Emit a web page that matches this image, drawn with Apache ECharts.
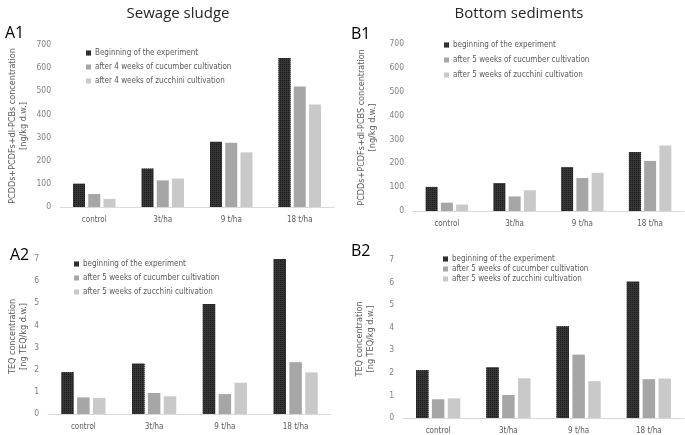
<!DOCTYPE html>
<html>
<head>
<meta charset="utf-8">
<script src="https://cdn.jsdelivr.net/npm/echarts@6/dist/echarts.min.js"></script>
<style>
  html, body { margin: 0; padding: 0; background: #fff; }
  #chart { width: 685px; height: 435px; }
</style>
</head>
<body>
<div id="chart"></div>
<script>
// categories on every x axis
var categories = ['control', '3t/ha', '9 t/ha', '18 t/ha']

// A1 - sewage sludge, PCDDs+PCDFs+dl-PCBs
var a1Begin = [101, 166, 282, 644]
var a1Cucumber = [56, 115, 278, 521]
var a1Zucchini = [35, 123, 236, 443]

// B1 - bottom sediments, PCDDs+PCDFs+dl-PCBs
var b1Begin = [101, 117, 184, 247]
var b1Cucumber = [35, 61, 138, 210]
var b1Zucchini = [27, 87, 160, 275]

// A2 - sewage sludge, TEQ
var a2Begin = [1.89, 2.28, 4.97, 7.0]
var a2Cucumber = [0.75, 0.95, 0.90, 2.34]
var a2Zucchini = [0.72, 0.80, 1.41, 1.88]

// B2 - bottom sediments, TEQ
var b2Begin = [2.12, 2.25, 4.07, 6.05]
var b2Cucumber = [0.83, 1.02, 2.81, 1.72]
var b2Zucchini = [0.87, 1.76, 1.63, 1.75]

var namesA1 = ['Beginning of the experiment', 'after 4 weeks of cucumber cultivation', 'after 4 weeks of zucchini cultivation']
var namesOther = ['beginning of the experiment', 'after 5 weeks of cucumber cultivation', 'after 5 weeks of zucchini cultivation']

var colors = ['#363636', '#a6a6a6', '#c9c9c9']
var font = "'Liberation Sans Narrow', 'DejaVu Sans Condensed', sans-serif"

var chart = echarts.init(document.getElementById('chart'))

function xAx(gridIndex) {
  return {
    type: 'category',
    gridIndex: gridIndex,
    data: categories,
    axisTick: { show: false },
    axisLine: { lineStyle: { color: '#d9d9d9' } },
    axisLabel: { color: '#595959', fontSize: 8, fontFamily: font, margin: 9 }
  }
}

function yAx(gridIndex, max, interval, name, gap) {
  return {
    type: 'value',
    gridIndex: gridIndex,
    min: 0,
    max: max,
    interval: interval,
    name: name,
    nameLocation: 'middle',
    nameRotate: 90,
    nameGap: gap,
    nameTextStyle: { color: '#595959', fontSize: 9, fontFamily: font, lineHeight: 11 },
    splitLine: { show: false },
    axisLine: { show: false },
    axisTick: { show: false },
    axisLabel: { color: '#808080', fontSize: 8.5, fontFamily: font, margin: 9 }
  }
}

function bars(names, idx, values, width) {
  return values.map(function (v, i) {
    var style = { color: colors[i] }
    if (i === 0) {
      // checkered texture of the dark bars
      style.decal = { symbol: 'rect', symbolSize: 1, dashArrayX: [1, 1], dashArrayY: [1, 1], color: '#1c1c1c' }
    }
    return {
      name: names[i],
      type: 'bar',
      xAxisIndex: idx,
      yAxisIndex: idx,
      data: v,
      barWidth: width,
      barGap: '27%',
      itemStyle: style,
      animation: false
    }
  })
}

function legend(names, left, top, gap) {
  return {
    data: names,
    orient: 'vertical',
    left: left,
    top: top,
    itemWidth: 5,
    itemHeight: 5,
    itemGap: gap,
    icon: 'rect',
    selectedMode: false,
    textStyle: { color: '#595959', fontSize: 8, fontFamily: font, padding: [0, 0, 0, -1] }
  }
}

var series = []
  .concat(bars(namesA1, 0, [a1Begin, a1Cucumber, a1Zucchini], 12))
  .concat(bars(namesOther, 1, [b1Begin, b1Cucumber, b1Zucchini], 12))
  .concat(bars(namesOther, 2, [a2Begin, a2Cucumber, a2Zucchini], 12.5))
  .concat(bars(namesOther, 3, [b2Begin, b2Cucumber, b2Zucchini], 12.5))

chart.setOption({
  animation: false,
  textStyle: { fontFamily: font },
  title: [
    { text: 'Sewage sludge', left: 173, top: 1, textAlign: 'center', textStyle: { fontSize: 15, fontWeight: 'normal', color: '#262626', fontFamily: 'Open Sans' } },
    { text: 'Bottom sediments', left: 514, top: 1, textAlign: 'center', textStyle: { fontSize: 15, fontWeight: 'normal', color: '#262626', fontFamily: 'Open Sans' } },
    { text: 'A1', left: 0, top: 20, textStyle: { fontSize: 16, fontWeight: 'normal', color: '#000', fontFamily: 'Open Sans' } },
    { text: 'B1', left: 346, top: 21, textStyle: { fontSize: 16, fontWeight: 'normal', color: '#000', fontFamily: 'Open Sans' } },
    { text: 'A2', left: 5, top: 242, textStyle: { fontSize: 16, fontWeight: 'normal', color: '#000', fontFamily: 'Open Sans' } },
    { text: 'B2', left: 346, top: 238, textStyle: { fontSize: 16, fontWeight: 'normal', color: '#000', fontFamily: 'Open Sans' } }
  ],
  legend: [
    legend(namesA1, 81, 44, 6),
    legend(namesOther, 439, 36, 7),
    legend(namesOther, 69, 255, 6),
    legend(namesOther, 438, 250, 2)
  ],
  grid: [
    { left: 60, top: 45, width: 274, height: 162 },
    { left: 413, top: 44, width: 271, height: 167 },
    { left: 48, top: 259, width: 283, height: 155 },
    { left: 403, top: 260, width: 281, height: 158 }
  ],
  xAxis: [xAx(0), xAx(1), xAx(2), xAx(3)],
  yAxis: [
    yAx(0, 700, 100, 'PCDDs+PCDFs+dl-PCBs concentration\n[ng/kg d.w.]', 31),
    yAx(1, 700, 100, 'PCDDs+PCDFs+dl-PCBS concentration\n[ng/kg d.w.]', 35),
    yAx(2, 7, 1, 'TEQ concentration\n[ng TEQ/kg d.w.]', 19),
    yAx(3, 7, 1, 'TEQ concentration\n[ng TEQ/kg d.w.]', 27)
  ],
  series: series
})
</script>
</body>
</html>
